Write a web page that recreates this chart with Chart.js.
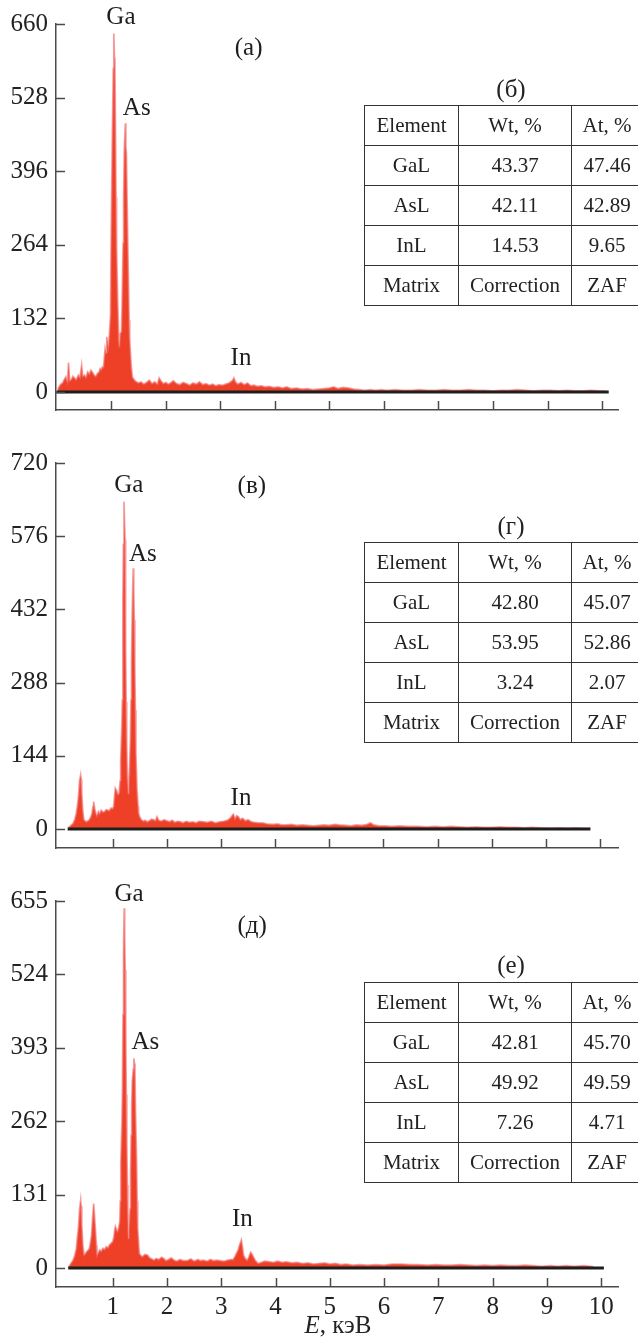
<!DOCTYPE html>
<html><head><meta charset="utf-8">
<script src="https://cdn.jsdelivr.net/npm/chart.js@4.4.1/dist/chart.umd.min.js"></script>
<style>
html,body{margin:0;padding:0;background:#fff;}
body{width:638px;height:1344px;overflow:hidden;position:relative;font-family:'Liberation Serif','Times New Roman',serif;color:#222;}
canvas{position:absolute;left:0;}
table.tbl{position:absolute;left:364px;border-collapse:collapse;table-layout:fixed;width:278px;font-size:21px;}
table.tbl td{border:1.5px solid #333;padding:0;text-align:center;white-space:nowrap;}
table.tbl tr{height:40px;}
.ttl{position:absolute;width:80px;text-align:center;font-size:25px;line-height:25px;}
.xt{position:absolute;width:200px;text-align:center;font-size:25px;line-height:25px;}
</style></head>
<body>
<canvas id="cA" width="638" height="440" style="top:0px"></canvas>
<canvas id="cB" width="638" height="440" style="top:440px"></canvas>
<canvas id="cC" width="638" height="464" style="top:880px"></canvas>
<div id="tables"></div>
<div class="xt" style="left:238px;top:1312px;"><i>E</i>, кэВ</div>
<script>
// ---------- data ----------
const xTicks = [1,2,3,4,5,6,7,8,9,10];
const yTicksA = [0,132,264,396,528,660];
const yTicksB = [0,144,288,432,576,720];
const yTicksC = [0,131,262,393,524,655];

const energyA = [0.02,0.05,0.08,0.11,0.14,0.17,0.20,0.22,0.24,0.27,0.30,0.33,0.36,0.40,0.43,0.46,0.48,0.51,0.54,0.57,0.60,0.63,0.66,0.69,0.72,0.75,0.78,0.80,0.82,0.84,0.86,0.89,0.91,0.92,0.94,0.95,0.97,0.99,1.00,1.02,1.04,1.05,1.06,1.07,1.08,1.09,1.10,1.12,1.14,1.15,1.17,1.19,1.20,1.22,1.23,1.24,1.26,1.27,1.28,1.30,1.31,1.33,1.34,1.36,1.37,1.39,1.42,1.45,1.50,1.55,1.60,1.65,1.70,1.75,1.80,1.85,1.88,1.92,1.96,2.00,2.05,2.09,2.14,2.20,2.26,2.32,2.38,2.44,2.50,2.56,2.62,2.68,2.74,2.80,2.86,2.92,2.98,3.04,3.10,3.16,3.22,3.25,3.28,3.32,3.38,3.44,3.50,3.56,3.62,3.68,3.75,3.82,3.90,3.98,4.06,4.14,4.22,4.30,4.40,4.50,4.60,4.70,4.80,4.90,5.00,5.08,5.16,5.25,5.35,5.45,5.55,5.65,5.75,5.85,5.95,6.05,6.20,6.35,6.50,6.65,6.80,6.95,7.10,7.25,7.40,7.55,7.70,7.85,8.00,8.15,8.30,8.45,8.60,8.75,8.90,9.05,9.20,9.35,9.50,9.65,9.80,9.95,10.08];
const countsA = [4,10,14,16,22,27,18,53,20,22,28,25,22,30,26,48,28,30,26,36,32,39,35,30,28,33,36,42,40,45,44,78,70,99,85,81,105,140,267,440,580,643,600,580,470,350,260,165,93,80,105,108,150,267,350,428,482,440,428,300,243,129,95,60,45,27,22,19,16,18,14,17,21,15,18,14,25,19,15,17,14,16,20,15,13,17,15,12,16,14,18,13,15,12,14,11,13,12,14,16,20,25,18,14,17,13,16,11,12,10,11,9,10,8,9,7,9,6,7,5,6,4,5,6,7,9,6,8,7,5,4,3,4,3,4,3,4,3,3,4,3,3,4,3,3,4,3,3,2,3,3,4,3,2,3,3,2,3,2,2,3,2,1];

const energyB = [0.18,0.21,0.24,0.27,0.30,0.33,0.35,0.37,0.39,0.41,0.42,0.43,0.45,0.47,0.50,0.52,0.55,0.57,0.60,0.62,0.64,0.65,0.67,0.69,0.71,0.74,0.76,0.79,0.82,0.85,0.88,0.91,0.94,0.97,1.00,1.02,1.04,1.05,1.07,1.08,1.10,1.12,1.14,1.15,1.17,1.18,1.19,1.20,1.21,1.22,1.23,1.24,1.25,1.26,1.27,1.29,1.30,1.31,1.33,1.34,1.35,1.36,1.38,1.39,1.40,1.41,1.42,1.43,1.45,1.47,1.48,1.50,1.53,1.57,1.60,1.64,1.68,1.72,1.76,1.79,1.82,1.85,1.90,1.95,2.00,2.05,2.10,2.15,2.20,2.25,2.30,2.36,2.42,2.48,2.54,2.60,2.68,2.75,2.82,2.90,2.98,3.05,3.12,3.18,3.21,3.23,3.26,3.29,3.32,3.36,3.40,3.45,3.50,3.56,3.62,3.70,3.77,3.85,3.95,4.05,4.12,4.20,4.30,4.40,4.50,4.60,4.70,4.81,4.90,5.00,5.10,5.18,5.30,5.40,5.50,5.60,5.70,5.76,5.82,5.92,6.03,6.15,6.30,6.45,6.64,6.80,6.95,7.10,7.25,7.40,7.55,7.70,7.86,8.00,8.15,8.30,8.47,8.60,8.75,8.90,9.08,9.25,9.40,9.55,9.69,9.82];
const countsB = [2,5,8,11,18,31,45,64,95,106,98,70,35,18,15,14,16,18,24,31,45,54,40,31,26,34,30,37,33,34,38,37,36,41,40,44,70,80,76,73,68,70,95,136,200,254,450,560,644,600,569,359,250,169,110,70,85,110,180,254,330,411,513,470,411,320,234,150,77,45,31,24,18,15,17,14,16,19,18,16,24,17,15,18,16,14,17,13,15,14,12,15,13,14,12,15,14,13,15,12,14,15,17,22,27,29,20,26,24,18,21,16,18,14,13,12,12,10,9,10,8,8,9,7,8,7,6,7,8,7,9,8,7,6,8,7,9,12,8,6,6,5,6,5,5,4,5,4,5,4,3,4,3,3,4,3,3,2,3,2,1,2,1,2,1,1];

const energyC = [0.19,0.23,0.27,0.30,0.33,0.35,0.37,0.39,0.41,0.42,0.43,0.45,0.47,0.50,0.52,0.55,0.57,0.59,0.61,0.63,0.65,0.66,0.68,0.70,0.71,0.74,0.76,0.79,0.82,0.85,0.88,0.91,0.94,0.97,1.00,1.02,1.04,1.05,1.07,1.09,1.11,1.13,1.14,1.15,1.17,1.18,1.19,1.20,1.21,1.22,1.23,1.24,1.25,1.26,1.27,1.28,1.29,1.30,1.32,1.33,1.34,1.35,1.36,1.38,1.39,1.40,1.41,1.42,1.44,1.45,1.46,1.48,1.49,1.52,1.55,1.59,1.64,1.68,1.72,1.76,1.80,1.85,1.90,1.94,1.98,2.03,2.08,2.13,2.18,2.24,2.30,2.37,2.44,2.50,2.57,2.62,2.67,2.74,2.80,2.86,2.92,2.98,3.05,3.12,3.18,3.22,3.26,3.31,3.34,3.37,3.39,3.41,3.44,3.48,3.51,3.54,3.57,3.59,3.63,3.68,3.74,3.80,3.89,3.96,4.04,4.12,4.20,4.30,4.40,4.50,4.60,4.70,4.80,4.90,5.00,5.11,5.20,5.30,5.42,5.55,5.70,5.85,6.00,6.15,6.33,6.48,6.63,6.80,6.95,7.10,7.25,7.40,7.55,7.70,7.85,8.00,8.15,8.30,8.46,8.60,8.75,8.90,9.07,9.20,9.35,9.50,9.68,9.80,9.86];
const countsC = [2,8,14,22,35,55,74,105,121,110,77,40,23,26,29,32,35,45,59,90,115,100,71,40,23,28,32,30,35,33,38,36,41,44,47,55,70,74,68,65,72,83,120,190,260,321,452,560,642,590,532,420,309,220,148,90,53,70,106,170,237,290,333,355,374,365,350,280,190,120,71,40,26,22,20,24,23,18,16,14,17,15,19,17,13,15,18,14,12,15,13,13,16,12,15,13,14,12,15,13,14,13,12,14,15,15,22,32,42,50,38,23,17,14,20,28,24,20,13,8,10,12,11,10,12,10,11,9,10,8,9,7,8,9,7,8,6,7,5,6,5,6,5,7,7,6,6,5,6,5,5,6,5,4,5,4,5,4,4,5,4,3,4,3,4,3,4,3,2];

const baseA = [0.0, 10.12];
const baseB = [0.17, 9.82];
const baseC = [0.18, 10.05];

const peakTextA = ['Ga','As','In','(а)'];
const peakTextB = ['Ga','As','In','(в)'];
const peakTextC = ['Ga','As','In','(д)'];

const tableHeader = ['Element','Wt, %','At, %'];
const tableElements = ['GaL','AsL','InL'];
const tableFooter = ['Matrix','Correction','ZAF'];
const wtB = [43.37, 42.11, 14.53], atB = [47.46, 42.89, 9.65];
const wtG = [42.80, 53.95, 3.24],  atG = [45.07, 52.86, 2.07];
const wtE = [42.81, 49.92, 7.26],  atE = [45.70, 49.59, 4.71];

// ---------- layout (positions, not data) ----------
const labelPosA = [[1.18,672],[1.47,509],[3.38,61],[3.52,617]];
const labelPosB = [[1.30,675],[1.56,541],[3.37,61],[3.57,673]];
const labelPosC = [[1.30,666],[1.60,402],[3.39,86],[3.57,609]];

const FONT = 'Liberation Serif';

const marksPlugin = {
  id: 'marks',
  afterDraw(chart, args, opts) {
    const {ctx, chartArea, scales:{x, y}} = chart;
    ctx.save();
    ctx.strokeStyle = '#4a4a4a';
    ctx.lineWidth = 1.5;
    x.ticks.forEach(t => {
      const px = Math.round(x.getPixelForValue(t.value)) + 0.5;
      ctx.beginPath(); ctx.moveTo(px, chartArea.bottom); ctx.lineTo(px, chartArea.bottom - 9); ctx.stroke();
    });
    y.ticks.forEach(t => {
      const py = Math.round(y.getPixelForValue(t.value)) + 0.5;
      ctx.beginPath(); ctx.moveTo(chartArea.left, py); ctx.lineTo(chartArea.left + 9, py); ctx.stroke();
    });
    ctx.fillStyle = '#1e1e1e';
    ctx.font = '25px "' + FONT + '"';
    ctx.textAlign = 'center';
    ctx.textBaseline = 'middle';
    (opts.texts || []).forEach((txt, i) => {
      const p = opts.pos[i];
      ctx.fillText(txt, x.getPixelForValue(p[0]), y.getPixelForValue(p[1]));
    });
    ctx.restore();
  }
};

function makeChart(id, p) {
  return new Chart(document.getElementById(id), {
    type: 'line',
    data: { datasets: [
      { data: [{x:p.base[0], y:0}, {x:p.base[1], y:0}], borderColor:'#1e1e1e', borderWidth:3,
        pointRadius:0, fill:false, order:0 },
      { data: p.e.map((e, i) => ({x:e, y:p.c[i]})), borderColor:'rgba(242,110,110,0.65)', borderWidth:1.8,
        backgroundColor:'rgb(237,64,38)', fill:'origin', pointRadius:0, tension:0, order:1 }
    ]},
    options: {
      responsive:false, animation:false, devicePixelRatio:1,
      layout:{padding:{top:p.padTop, right:20, left:0, bottom:0}},
      plugins:{legend:{display:false}, tooltip:{enabled:false}, marks:{texts:p.texts, pos:p.pos}},
      scales:{
        x:{type:'linear', min:p.xmin, max:p.xmax,
           afterBuildTicks:s => { s.ticks = xTicks.map(v => ({value:v})); },
           afterFit:s => { s.height = p.xh; s.paddingLeft = 0; s.paddingRight = 0; },
           grid:{display:false, drawTicks:false},
           border:{display:true, color:'#4a4a4a', width:1.5},
           ticks:{display:p.showX, autoSkip:false, maxRotation:0, padding:5, color:'#222',
                  font:{family:FONT, size:25}}},
        y:{type:'linear', min:p.ymin, max:p.ymax,
           afterBuildTicks:s => { s.ticks = p.yt.map(v => ({value:v})); },
           afterFit:s => { s.width = 56; s.paddingTop = 0; s.paddingBottom = 0; },
           grid:{display:false, drawTicks:false},
           border:{display:true, color:'#4a4a4a', width:1.5},
           ticks:{padding:8, color:'#222', font:{family:FONT, size:25}, callback:v => String(v)}}
      }
    },
    plugins:[marksPlugin]
  });
}

makeChart('cA', {e:energyA, c:countsA, base:baseA, yt:yTicksA, ymin:-32.3, ymax:660, xmin:-0.01, xmax:10.29,
  padTop:24, xh:30, showX:false, texts:peakTextA, pos:labelPosA});
makeChart('cB', {e:energyB, c:countsB, base:baseB, yt:yTicksB, ymin:-37.4, ymax:720, xmin:-0.045, xmax:10.33,
  padTop:23, xh:32, showX:false, texts:peakTextB, pos:labelPosB});
makeChart('cC', {e:energyC, c:countsC, base:baseC, yt:yTicksC, ymin:-33.9, ymax:655, xmin:-0.045, xmax:10.31,
  padTop:21, xh:57, showX:true, texts:peakTextC, pos:labelPosC});

// ---------- tables ----------
function makeTable(title, titleTop, tableTop, wt, at) {
  const holder = document.getElementById('tables');
  const t = document.createElement('div');
  t.className = 'ttl';
  t.style.left = (511 - 40) + 'px';
  t.style.top = (titleTop - 12) + 'px';
  t.textContent = title;
  holder.appendChild(t);
  const tb = document.createElement('table');
  tb.className = 'tbl';
  tb.style.top = tableTop + 'px';
  let html = '<colgroup><col style="width:94px"><col style="width:113px"><col style="width:71px"></colgroup>';
  const row = cells => '<tr>' + cells.map(c => '<td>' + c + '</td>').join('') + '</tr>';
  html += row(tableHeader);
  tableElements.forEach((el, i) => { html += row([el, wt[i].toFixed(2), at[i].toFixed(2)]); });
  html += row(tableFooter);
  tb.innerHTML = html;
  holder.appendChild(tb);
}
makeTable('(б)', 88, 105, wtB, atB);
makeTable('(г)', 525, 542, wtG, atG);
makeTable('(е)', 964, 982, wtE, atE);
</script>
</body></html>
